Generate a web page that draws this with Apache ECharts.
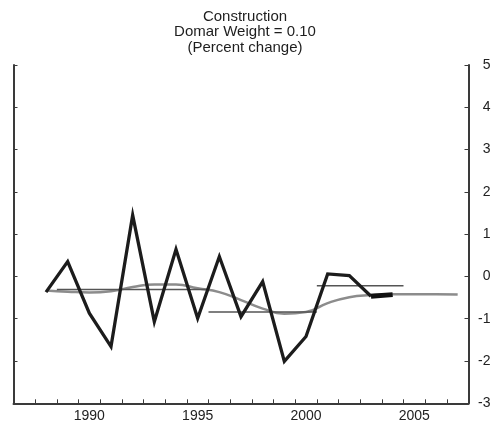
<!DOCTYPE html>
<html>
<head>
<meta charset="utf-8">
<script src="https://cdn.jsdelivr.net/npm/echarts@6/dist/echarts.min.js"></script>
<style>
  html, body { margin: 0; padding: 0; background: #fff; }
  #chart { width: 503px; height: 424px; }
</style>
</head>
<body>
<div id="chart"></div>
<script>
// Year categories shown along the bottom axis (ticks fall between years)
const yearCategories = ['1987','1988','1989','1990','1991','1992','1993','1994','1995','1996',
  '1997','1998','1999','2000','2001','2002','2003','2004','2005','2006','2007'];
const labeledYears = ['1990', '1995', '2000', '2005'];
const yTicks = [-3, -2, -1, 0, 1, 2, 3, 4, 5];

// Annual percent change
const annualYears = [1988, 1989, 1990, 1991, 1992, 1993, 1994, 1995, 1996, 1997, 1998, 1999, 2000, 2001, 2002, 2003];
const annualValues = [-0.37, 0.35, -0.87, -1.66, 1.45, -1.07, 0.64, -0.99, 0.47, -0.95, -0.12, -2.01, -1.42, 0.06, 0.02, -0.47];

// Latest estimate segment
const latestYears = [2003, 2004];
const latestValues = [-0.47, -0.43];

// Smoothed trend
const trendYears = [1988, 1989, 1990, 1991, 1992, 1993, 1994, 1995, 1996, 1997, 1998, 1999, 2000, 2001, 2002, 2003, 2004, 2005, 2006, 2007];
const trendValues = [-0.33, -0.36, -0.38, -0.35, -0.25, -0.19, -0.19, -0.28, -0.37, -0.56, -0.76, -0.88, -0.84, -0.63, -0.49, -0.44, -0.42, -0.42, -0.42, -0.43];

// Period averages: [start, end, average]
const periodAverages = [
  [1988.5, 1995.5, -0.31],
  [1995.5, 2000.5, -0.84],
  [2000.5, 2004.5, -0.22]
];

const zip = (xs, ys) => xs.map((x, i) => [x, ys[i]]);

const FONT = '"Liberation Sans", Arial, Helvetica, sans-serif';
const AXIS_COLOR = '#3a3a3a';

const series = [
  {
    type: 'line', xAxisIndex: 1, yAxisIndex: 0,
    data: zip(trendYears, trendValues),
    smooth: 0.5, showSymbol: false, symbol: 'none',
    lineStyle: { color: '#8c8c8c', width: 2.5 },
    z: 2
  }
];
periodAverages.forEach(([a, b, v]) => {
  series.push({
    type: 'line', xAxisIndex: 1, yAxisIndex: 0,
    data: [[a, v], [b, v]],
    symbol: 'none',
    lineStyle: { color: '#555', width: 1.6 },
    z: 3
  });
});
series.push({
  type: 'line', xAxisIndex: 1, yAxisIndex: 0,
  data: zip(annualYears, annualValues),
  symbol: 'none',
  lineStyle: { color: '#1c1c1c', width: 3.3, join: 'miter', miterLimit: 10, cap: 'butt' },
  z: 4
});
series.push({
  type: 'line', xAxisIndex: 1, yAxisIndex: 0,
  data: zip(latestYears, latestValues),
  symbol: 'none',
  lineStyle: { color: '#111', width: 5, cap: 'butt' },
  z: 5
});

const yAxisBase = {
  type: 'value', min: yTicks[0], max: yTicks[yTicks.length - 1], interval: 1,
  axisLine: { show: true, lineStyle: { color: AXIS_COLOR, width: 2 } },
  axisTick: { show: true, inside: true, length: 4, lineStyle: { color: AXIS_COLOR, width: 1 } },
  splitLine: { show: false }
};

const chart = echarts.init(document.getElementById('chart'), null, { renderer: 'canvas' });
chart.setOption({
  animation: false,
  backgroundColor: '#fff',
  title: {
    text: 'Construction\nDomar Weight = 0.10\n(Percent change)',
    left: 240, top: 4, textAlign: 'center',
    textStyle: { fontFamily: FONT, fontSize: 15, fontWeight: 'normal', color: '#1e1e1e', lineHeight: 15.5 }
  },
  grid: { left: 13.5, right: 34.5, top: 65, bottom: 20.7 },
  xAxis: [
    {
      type: 'category', data: yearCategories, boundaryGap: true, position: 'bottom',
      axisLine: { show: true, onZero: false, lineStyle: { color: AXIS_COLOR, width: 2 } },
      axisTick: { show: true, inside: true, length: 4, interval: 0, alignWithLabel: false,
        lineStyle: { color: AXIS_COLOR, width: 1 } },
      axisLabel: {
        interval: (idx, val) => labeledYears.includes(val),
        margin: 6, fontFamily: FONT, fontSize: 14, color: '#222'
      },
      splitLine: { show: false }
    },
    {
      type: 'value', min: 1986.5, max: 2007.5, show: false,
      splitLine: { show: false }
    }
  ],
  yAxis: [
    Object.assign({}, yAxisBase, { position: 'left', axisLabel: { show: false } }),
    Object.assign({}, yAxisBase, {
      position: 'right',
      axisLabel: { show: true, align: 'right', margin: 22, fontFamily: FONT, fontSize: 14, color: '#222' }
    })
  ],
  series: series
});
</script>
</body>
</html>
